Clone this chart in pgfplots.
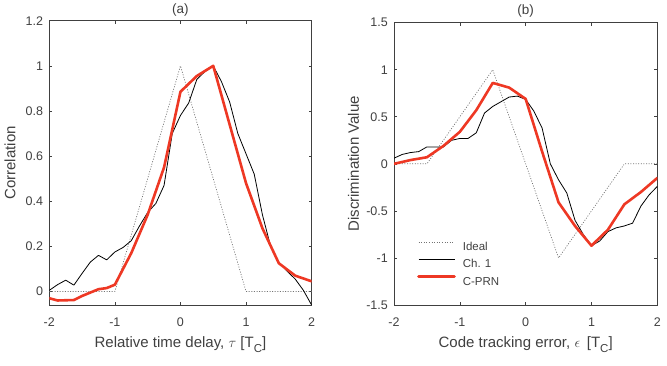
\documentclass[border=0pt]{standalone}
\usepackage{fontspec}
\setmainfont{Liberation Sans}
\usepackage{pgfplots}
\pgfplotsset{compat=1.18}

\definecolor{axgray}{RGB}{64,64,64}
\definecolor{idealgray}{RGB}{115,115,115}
\definecolor{prnred}{RGB}{238,56,36}

\newcommand{\tickfont}{\fontsize{12.5}{14}\selectfont}
\newcommand{\labfont}{\fontsize{15}{17}\selectfont}
\newcommand{\titfont}{\fontsize{13.5}{15}\selectfont}
\newcommand{\legfont}{\fontsize{11.5}{13}\selectfont}

\pgfplotsset{
  panel/.style={
    scale only axis,
    xmin=-2, xmax=2,
    xtick={-2,-1,0,1,2},
    xticklabels={-2,-1,0,1,2},
    axis line style={axgray, line width=0.6pt},
    tick style={axgray, line width=0.6pt},
    major tick length=3pt,
    tick align=inside,
    tick pos=both,
    xticklabel style={font=\tickfont, text=axgray, anchor=base, yshift=-21.7pt},
    yticklabel style={font=\tickfont, text=axgray, anchor=east, inner sep=0pt, xshift=-6pt},
    label style={font=\labfont, text=axgray},
    title style={font=\titfont, text=axgray, anchor=center},
    clip=true,
  },
  ideal/.style={idealgray, line width=0.7pt, dash pattern=on 1pt off 1.6pt},
  ch1/.style={black, line width=0.8pt, line join=round},
  cprn/.style={prnred, line width=2.6pt, line join=round, line cap=round},
}

\begin{document}
\begin{tikzpicture}
\path[use as bounding box] (0,0) rectangle (667pt,366pt);

% (a) correlation functions
\begin{axis}[panel,
  at={(49.3pt,61pt)}, anchor=south west,
  width=262.3pt, height=284.3pt,
  ymin=-0.06, ymax=1.2,
  ytick={0,0.2,0.4,0.6,0.8,1,1.2},
  yticklabels={0,0.2,0.4,0.6,0.8,1,1.2},
  title={(a)},
  title style={at={(axis description cs:0.5,1)}, yshift=4.2pt},
  xlabel={Relative time delay, $\tau$ [T\raisebox{-4.5pt}{\fontsize{11.5}{12}\selectfont C}]},
  xlabel style={at={(axis description cs:0.5,-0.1502)}, anchor=base},
  ylabel={Correlation},
  ylabel style={at={(axis description cs:-0.1289,0.5)}, anchor=base},
]
\addplot[ideal] coordinates {(-2,0) (-1,0) (0,1) (1,0) (2,0)};
\addplot[ch1] coordinates {
  (-2,0.005) (-1.875,0.03) (-1.75,0.05) (-1.625,0.028) (-1.5,0.08)
  (-1.375,0.13) (-1.25,0.16) (-1.125,0.14) (-1,0.175) (-0.875,0.195)
  (-0.75,0.225) (-0.625,0.29) (-0.5,0.35) (-0.375,0.39) (-0.25,0.47)
  (-0.125,0.70) (0,0.78) (0.125,0.835) (0.25,0.94) (0.375,0.975)
  (0.5,1.0) (0.625,0.93) (0.75,0.84) (0.875,0.70) (1,0.61)
  (1.125,0.52) (1.25,0.34) (1.375,0.20) (1.5,0.13) (1.625,0.09)
  (1.75,0.055) (1.875,0.005) (2,-0.06)};
\addplot[cprn] coordinates {
  (-2,-0.03) (-1.875,-0.04) (-1.625,-0.038) (-1.5,-0.02) (-1.25,0.01)
  (-1.125,0.015) (-1,0.03) (-0.75,0.17) (-0.5,0.34) (-0.25,0.55)
  (0,0.885) (0.25,0.955) (0.5,1.0) (0.75,0.74) (1,0.48)
  (1.25,0.28) (1.5,0.125) (1.75,0.07) (2,0.045)};
\end{axis}

% (b) discriminator output
\begin{axis}[panel,
  at={(394pt,61pt)}, anchor=south west,
  width=263.3pt, height=282.3pt,
  ymin=-1.5, ymax=1.5,
  ytick={-1.5,-1,-0.5,0,0.5,1,1.5},
  yticklabels={-1.5,-1,-0.5,0,0.5,1,1.5},
  title={(b)},
  title style={at={(axis description cs:0.5,1)}, yshift=5.9pt},
  xlabel={Code tracking error, $\epsilon$ \,[T\raisebox{-4.5pt}{\fontsize{11.5}{12}\selectfont C}]},
  xlabel style={at={(axis description cs:0.5,-0.1513)}, anchor=base},
  ylabel={Discrimination Value},
  ylabel style={at={(axis description cs:-0.133,0.5)}, anchor=base},
  legend image code/.code={\draw[#1] (0pt,4.1pt) -- (36pt,4.1pt);},
  legend style={at={(axis description cs:0.0874,0.223)}, anchor=north west,
    draw=none, fill=none, inner sep=0pt, font=\legfont, text=axgray,
    row sep=8pt, nodes={inner sep=0pt, text height=8.3pt, text depth=0pt},
    /tikz/every odd column/.append style={column sep=7pt}},
  legend cell align=left,
]
\addplot[ideal] coordinates {(-2,0) (-1.5,0) (-0.5,1) (0.5,-1) (1.5,0) (2,0)};
\addlegendentry{Ideal}
\addplot[ch1] coordinates {
  (-2,0.06) (-1.875,0.10) (-1.75,0.12) (-1.625,0.13) (-1.5,0.18)
  (-1.375,0.18) (-1.25,0.18) (-1.125,0.25) (-1,0.27) (-0.875,0.27)
  (-0.75,0.33) (-0.625,0.54) (-0.5,0.61) (-0.375,0.66) (-0.25,0.71)
  (-0.125,0.72) (0,0.685) (0.125,0.56) (0.25,0.38) (0.375,0.0)
  (0.5,-0.17) (0.625,-0.31) (0.75,-0.60) (0.875,-0.75) (1,-0.87)
  (1.125,-0.82) (1.25,-0.72) (1.375,-0.68) (1.5,-0.66) (1.625,-0.63)
  (1.75,-0.45) (1.875,-0.33) (2,-0.24)};
\addlegendentry{Ch. 1}
\addplot[cprn] coordinates {
  (-2,0) (-1.75,0.04) (-1.5,0.07) (-1.25,0.19) (-1,0.34)
  (-0.75,0.57) (-0.5,0.86) (-0.25,0.81) (0,0.69) (0.25,0.13)
  (0.5,-0.41) (0.75,-0.66) (1,-0.87) (1.25,-0.70) (1.5,-0.43)
  (1.75,-0.30) (2,-0.15)};
\addlegendentry{C-PRN}
\end{axis}
\end{tikzpicture}
\end{document}
